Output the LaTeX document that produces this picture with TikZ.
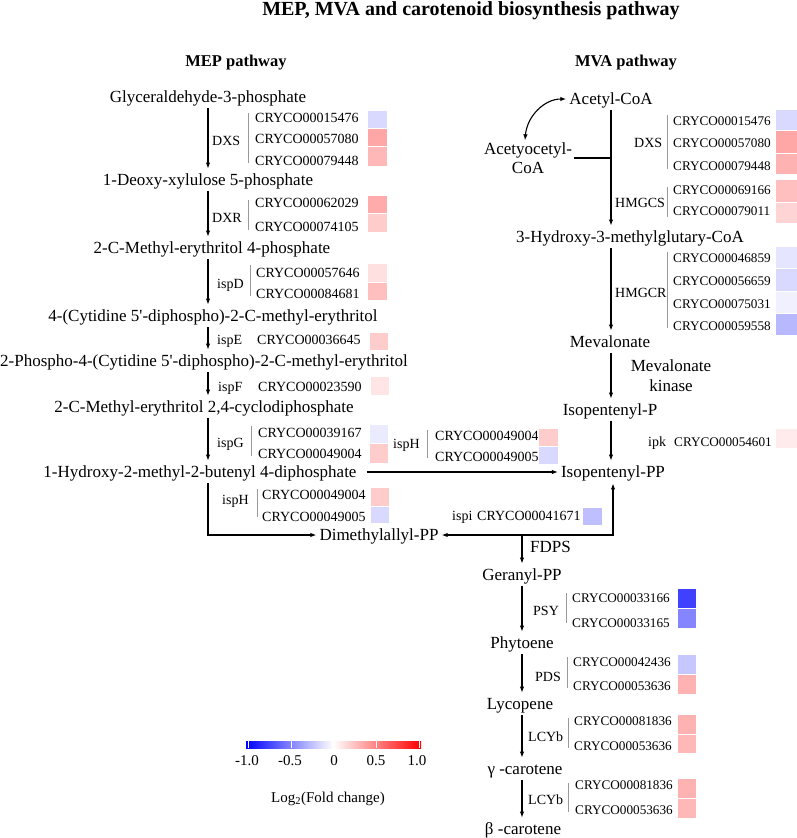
\documentclass[tikz,border=0pt]{standalone}
\usepackage{fontspec}
\setmainfont{Liberation Serif}
\usetikzlibrary{arrows.meta}

\begin{document}
\begin{tikzpicture}[x=1pt, y=-1pt,
    met/.style={font=\fontsize{17}{20}\selectfont, text height=11.5pt, text depth=0pt, inner xsep=3pt, inner ysep=5.5pt},
    gene/.style={font=\fontsize{14}{16}\selectfont, text height=10pt, text depth=0pt, anchor=west, inner sep=0pt},
    genesm/.style={gene, font=\fontsize{13.2}{15}\selectfont},
    enz/.style={font=\fontsize{14}{16}\selectfont, text height=10pt, text depth=0pt, anchor=west, inner sep=0pt},
    head/.style={font=\bfseries\fontsize{16.5}{19}\selectfont},
    tick/.style={font=\fontsize{15}{17}\selectfont},
    bar/.style={black!40, line width=0.9pt},
    cell/.style={draw=white, line width=0.8pt},
    arrow/.style={line width=1.1pt, -{Latex[length=6pt, width=4.5pt]}},
    twoway/.style={line width=1.1pt, {Latex[length=6pt, width=4.5pt]}-{Latex[length=6pt, width=4.5pt]}}
]

\useasboundingbox (0,0) rectangle (797,838);

% Titles
\node[font=\bfseries\fontsize{20}{24}\selectfont] (title) at (471,11) {MEP, MVA and carotenoid biosynthesis pathway};
\node[head] (meph) at (236,63) {MEP pathway};
\node[head] (mvah) at (626,63) {MVA pathway};

% Lines the arrows run along
\coordinate (mepline) at (208,0);
\coordinate (mvaline) at (611,0);

% MEP pathway
\node[met] (g3p) at (208,97) {Glyceraldehyde-3-phosphate};
\node[met] (dxp) at (208,180) {1-Deoxy-xylulose 5-phosphate};
\node[met] (mep) at (212,248) {2-C-Methyl-erythritol 4-phosphate};
\node[met] (cdpme) at (213,316) {4-(Cytidine 5\textquotesingle-diphospho)-2-C-methyl-erythritol};
\node[met] (cdpmep) at (204,361) {2-Phospho-4-(Cytidine 5\textquotesingle-diphospho)-2-C-methyl-erythritol};
\node[met] (mecpp) at (204,407) {2-C-Methyl-erythritol 2,4-cyclodiphosphate};
\node[met] (hmbpp) at (200,472) {1-Hydroxy-2-methyl-2-butenyl 4-diphosphate};
\node[met] (dmapp) at (379,535) {Dimethylallyl-PP};

\draw[arrow] (g3p.south -| mepline) -- (dxp.north -| mepline);
\draw[arrow] (dxp.south -| mepline) -- (mep.north -| mepline);
\draw[arrow] (mep.south -| mepline) -- (cdpme.north -| mepline);
\draw[arrow] (cdpme.south -| mepline) -- (cdpmep.north -| mepline);
\draw[arrow] (cdpmep.south -| mepline) -- (mecpp.north -| mepline);
\draw[arrow] (mecpp.south -| mepline) -- (hmbpp.north -| mepline);
\draw[arrow] (hmbpp.south -| mepline) |- (dmapp.west);

% MVA pathway
\node[met] (acetyl) at (611,99) {Acetyl-CoA};
\node[font=\fontsize{17}{19}\selectfont, align=center, inner sep=2pt] (acetoa) at (528,158) {Acetyocetyl-\\CoA};
\node[met] (hmgcoa) at (630,237) {3-Hydroxy-3-methylglutary-CoA};
\node[met] (mva) at (610,342) {Mevalonate};
\node[met] (ip) at (610,410) {Isopentenyl-P};
\node[met] (ipp) at (613,472) {Isopentenyl-PP};

\draw[arrow] (acetyl.south -| mvaline) -- (hmgcoa.north -| mvaline);
\draw[line width=1.1pt] (acetoa.east) -- (acetoa.east -| mvaline);
\draw[twoway] ([xshift=-3pt]acetoa.north) .. controls +(2,-24) and +(-22,0) .. (acetyl.west);
\draw[arrow] (hmgcoa.south -| mvaline) -- (mva.north -| mvaline);
\draw[arrow] (mva.south -| mvaline) -- (ip.north -| mvaline);
\draw[arrow] (ip.south -| mvaline) -- (ipp.north -| mvaline);
\draw[arrow] ([xshift=7pt]hmbpp.east) -- (ipp.west);
\draw[twoway] (ipp.south) |- (dmapp.east);

% Carotenoids
\node[met] (gpp) at (522,575) {Geranyl-PP};
\node[met] (phy) at (522,643) {Phytoene};
\node[met] (lyc) at (520,704) {Lycopene};
\node[met] (gcar) at (525,769) {γ -carotene};
\node[met] (bcar) at (523,829) {β -carotene};

\draw[arrow] (dmapp.east -| gpp.north) -- (gpp.north);
\draw[arrow] (gpp.south) -- (phy.north -| gpp.south);
\draw[arrow] (phy.south -| gpp.south) -- (lyc.north -| gpp.south);
\draw[arrow] (lyc.south -| gpp.south) -- (gcar.north -| gpp.south);
\draw[arrow] (gcar.south -| gpp.south) -- (bcar.north -| gpp.south);

% Enzymes
\node[enz] (dxs) at (212,140) {DXS};
\node[enz] (dxr) at (212,217) {DXR};
\node[enz] (ispd) at (217,283) {ispD};
\node[enz] (ispe) at (217,339) {ispE};
\node[enz] (ispf) at (218,386) {ispF};
\node[enz] (ispg) at (217,442) {ispG};
\node[enz] (isphup) at (393,443) {ispH};
\node[enz] (isphlow) at (222,499) {ispH};
\node[enz] (ispi) at (452,515) {ispi};
\node[enz] (mdxs) at (634,142) {DXS};
\node[enz] (hmgcs) at (615,202) {HMGCS};
\node[enz] (hmgcr) at (615,292) {HMGCR};
\node[font=\fontsize{17}{20}\selectfont, align=center] (mvk) at (671,376) {Mevalonate\\kinase};
\node[enz] (ipk) at (648,441) {ipk};
\node[met, anchor=west, inner xsep=0pt] (fdps) at (530,547) {FDPS};
\node[enz] (psy) at (533,610) {PSY};
\node[enz] (pds) at (535,676) {PDS};
\node[enz] (lcyba) at (528,736) {LCYb};
\node[enz] (lcybb) at (528,799) {LCYb};

% Gene brackets
\draw[bar] (248,113) -- (248,163);
\draw[bar] (248,200) -- (248,230);
\draw[bar] (250,265) -- (250,296);
\draw[bar] (251,426) -- (251,456);
\draw[bar] (427,430) -- (427,458);
\draw[bar] (257,489) -- (257,517);
\draw[bar] (667,115) -- (667,169);
\draw[bar] (667,187) -- (667,217);
\draw[bar] (667,252) -- (667,328);
\draw[bar] (566,593) -- (566,623);
\draw[bar] (567,657) -- (567,688);
\draw[bar] (568,718) -- (568,748);
\draw[bar] (568,783) -- (568,812);

% Genes, MEP side
\node[gene] (dxs1) at (255,117) {CRYCO00015476};
\node[gene] (dxs2) at (255,138) {CRYCO00057080};
\node[gene] (dxs3) at (255,160) {CRYCO00079448};
\node[gene] (dxr1) at (255,202) {CRYCO00062029};
\node[gene] (dxr2) at (255,226) {CRYCO00074105};
\node[gene] (ispd1) at (256,272) {CRYCO00057646};
\node[gene] (ispd2) at (256,293) {CRYCO00084681};
\node[gene] (ispe1) at (257,339) {CRYCO00036645};
\node[gene] (ispf1) at (258,386) {CRYCO00023590};
\node[gene] (ispg1) at (258,432) {CRYCO00039167};
\node[gene] (ispg2) at (258,453) {CRYCO00049004};
\node[gene] (isphup1) at (435,435) {CRYCO00049004};
\node[gene] (isphup2) at (435,456) {CRYCO00049005};
\node[gene] (isphlow1) at (262,494) {CRYCO00049004};
\node[gene] (isphlow2) at (262,516) {CRYCO00049005};
\node[gene] (ispi1) at (477,515) {CRYCO00041671};

% Genes, MVA side
\node[genesm] (mdxs1) at (673,120) {CRYCO00015476};
\node[genesm] (mdxs2) at (673,142) {CRYCO00057080};
\node[genesm] (mdxs3) at (673,165) {CRYCO00079448};
\node[genesm] (hmgcs1) at (673,189) {CRYCO00069166};
\node[genesm] (hmgcs2) at (673,210) {CRYCO00079011};
\node[genesm] (hmgcr1) at (673,257) {CRYCO00046859};
\node[genesm] (hmgcr2) at (673,280) {CRYCO00056659};
\node[genesm] (hmgcr3) at (673,303) {CRYCO00075031};
\node[genesm] (hmgcr4) at (673,325) {CRYCO00059558};
\node[genesm] (ipk1) at (674,441) {CRYCO00054601};

% Genes, carotenoids
\node[genesm] (psy1) at (572,597) {CRYCO00033166};
\node[genesm] (psy2) at (572,622) {CRYCO00033165};
\node[genesm] (pds1) at (573,661) {CRYCO00042436};
\node[genesm] (pds2) at (573,685) {CRYCO00053636};
\node[genesm] (lcyba1) at (574,720) {CRYCO00081836};
\node[genesm] (lcyba2) at (574,745) {CRYCO00053636};
\node[genesm] (lcybb1) at (575,784) {CRYCO00081836};
\node[genesm] (lcybb2) at (575,809) {CRYCO00053636};

% Fold change cells
\filldraw[cell, fill=blue!15] (367,110) rectangle (387,128);
\filldraw[cell, fill=red!35] (367,128) rectangle (387,146);
\filldraw[cell, fill=red!28] (367,146) rectangle (387,166);
\filldraw[cell, fill=red!33] (367,195) rectangle (387,213);
\filldraw[cell, fill=red!20] (367,213) rectangle (387,232);
\filldraw[cell, fill=red!12] (367,263) rectangle (387,282);
\filldraw[cell, fill=red!25] (367,282) rectangle (387,300);
\filldraw[cell, fill=red!20] (369,332) rectangle (388,350);
\filldraw[cell, fill=red!10] (370,376) rectangle (389,395);
\filldraw[cell, fill=blue!8] (369,424) rectangle (388,443);
\filldraw[cell, fill=red!20] (369,443) rectangle (388,463);
\filldraw[cell, fill=red!20] (538,428) rectangle (558,446);
\filldraw[cell, fill=blue!15] (538,446) rectangle (558,464);
\filldraw[cell, fill=red!20] (370,487) rectangle (389,506);
\filldraw[cell, fill=blue!15] (370,506) rectangle (389,523);
\filldraw[cell, fill=blue!25] (582,507) rectangle (602,525);

\filldraw[cell, fill=blue!15] (775,109) rectangle (797,130);
\filldraw[cell, fill=red!35] (775,130) rectangle (797,153);
\filldraw[cell, fill=red!30] (775,153) rectangle (797,174);
\filldraw[cell, fill=red!25] (775,179) rectangle (797,202);
\filldraw[cell, fill=red!17] (775,202) rectangle (797,223);
\filldraw[cell, fill=blue!10] (775,246) rectangle (797,268);
\filldraw[cell, fill=blue!15] (775,268) rectangle (797,291);
\filldraw[cell, fill=blue!6] (775,291) rectangle (797,313);
\filldraw[cell, fill=blue!28] (775,313) rectangle (797,335);
\filldraw[cell, fill=red!8] (775,428) rectangle (797,448);

\filldraw[cell, fill=blue!75] (677,588) rectangle (696,608);
\filldraw[cell, fill=blue!48] (677,608) rectangle (696,628);
\filldraw[cell, fill=blue!22] (677,654) rectangle (696,674);
\filldraw[cell, fill=red!30] (677,674) rectangle (696,694);
\filldraw[cell, fill=red!30] (677,714) rectangle (696,734);
\filldraw[cell, fill=red!28] (677,734) rectangle (696,753);
\filldraw[cell, fill=red!30] (677,778) rectangle (696,798);
\filldraw[cell, fill=red!28] (677,798) rectangle (696,818);

% Legend
\shade[left color=blue, right color=white] (246,741) rectangle (333,748);
\shade[left color=white, right color=red] (333,741) rectangle (421,748);
\draw[white, line width=0.8pt] (248,741) -- (248,748);
\draw[white, line width=0.8pt] (291,741) -- (291,748);
\draw[white, line width=0.8pt] (376,741) -- (376,748);
\draw[white, line width=0.8pt] (419,741) -- (419,748);
\node[tick] (tka) at (247,761) {-1.0};
\node[tick] (tkb) at (290,761) {-0.5};
\node[tick] (tkc) at (334,761) {0};
\node[tick] (tkd) at (376,761) {0.5};
\node[tick] (tke) at (417,761) {1.0};
\node[tick] (lfc) at (328,799) {Log\textsubscript{2}(Fold change)};

\end{tikzpicture}
\end{document}
